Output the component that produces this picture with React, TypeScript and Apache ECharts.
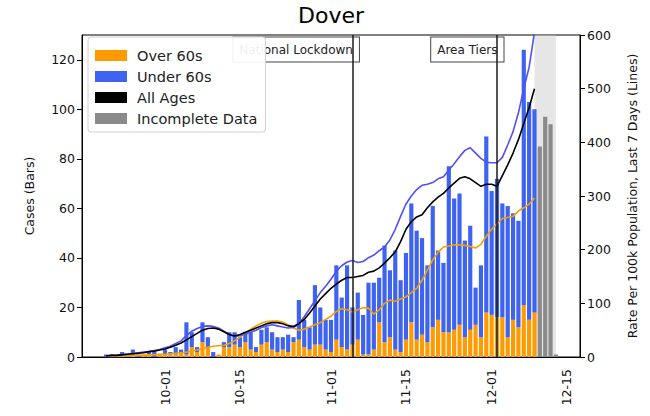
import React, { useEffect, useRef } from 'react';
import * as echarts from 'echarts';

const FONT = 'DejaVu Sans';

// Calendar categories: 2020-09-16 .. 2020-12-17 (labels as MM-DD)
const monthDays: [number, number, number][] = [
  [9, 16, 30],
  [10, 1, 31],
  [11, 1, 30],
  [12, 1, 17],
];
const dates: string[] = [];
monthDays.forEach(([m, a, b]) => {
  for (let d = a; d <= b; d++) dates.push(`${String(m).padStart(2, '0')}-${String(d).padStart(2, '0')}`);
});

const tickLabels = ['10-01', '10-15', '11-01', '11-15', '12-01', '12-15'];

const N = (n: number) => new Array(n).fill(null);

// Daily cases, over 60s (orange, bottom of stack)
const over60: (number | null)[] = [
  ...N(4),
  0, 0, 0, 1, 0, 1, 0, 1, 1, 0, 1,
  1, 1, 1, 2, 1, 4, 2, 6, 4, 0, 1, 4, 4, 5, 4, 6, 3, 2, 5, 6, 3, 2, 3, 2, 6, 7, 4, 3, 5, 5, 3,
  2, 7, 4, 3, 5, 7, 1, 1, 3, 14, 6, 8, 3, 2, 7, 14, 7, 9, 6, 12, 15, 10, 10, 11, 13, 8, 11, 13, 8, 18,
  17, 16, 16, 8, 15, 12, 21, 15, 18,
  ...N(8),
];

// Daily cases, under 60s (blue, stacked on top)
const under60: (number | null)[] = [
  ...N(4),
  1, 1, 0, 1, 1, 2, 1, 0, 1, 2, 0,
  2, 1, 3, 1, 13, 6, 2, 8, 4, 2, 0, 2, 6, 5, 4, 4, 7, 2, 6, 6, 7, 6, 5, 7, 2, 16, 11, 9, 24, 15, 12,
  13, 30, 20, 34, 15, 19, 16, 29, 27, 18, 39, 27, 40, 29, 35, 48, 44, 39, 31, 49, 28, 28, 67, 53, 53, 39, 42, 15, 29, 71,
  50, 56, 46, 53, 43, 43, 103, 88, 82,
  ...N(8),
];

// Daily cases, incomplete data (grey)
const incomplete: (number | null)[] = [...N(85), 85, 97, 94, 1, ...N(4)];

// 7-day rate per 100k, all ages (black line)
const rateAll: (number | null)[] = [
  ...N(4),
  2, 3, 3, 4, 5, 6, 7, 8, 10, 11, 13,
  15, 18, 22, 26, 32, 38, 44, 50, 53, 54, 52, 47, 42, 39, 42, 46, 50, 54, 58, 62, 64, 64, 62, 58, 57, 62, 70, 82, 95, 108, 118,
  128, 136, 143, 148, 148, 150, 152, 158, 160, 166, 175, 185, 196, 215, 238, 252, 261, 265, 278, 289, 298, 305, 315, 324, 333, 336, 332, 325, 318, 322,
  322, 318, 338, 358, 380, 405, 435, 465, 500,
  ...N(8),
];

// 7-day rate per 100k, under 60s (blue line)
const rateUnder60: (number | null)[] = [
  ...N(4),
  2, 3, 3, 5, 5, 7, 8, 9, 10, 12, 14,
  17, 20, 25, 30, 40, 48, 53, 57, 58, 57, 54, 48, 42, 38, 40, 43, 46, 50, 55, 58, 60, 58, 56, 54, 55, 62, 75, 90, 105, 120, 132,
  145, 160, 170, 177, 180, 176, 178, 185, 190, 198, 205, 218, 238, 262, 285, 300, 312, 320, 322, 325, 332, 336, 348, 360, 373, 385, 390, 380, 370, 363,
  362, 362, 372, 395, 420, 455, 500, 540, 605,
  ...N(8),
];

// 7-day rate per 100k, over 60s (orange line)
const rateOver60: (number | null)[] = [
  ...N(4),
  1, 1, 1, 2, 2, 3, 3, 3, 4, 4, 5,
  5, 6, 7, 8, 9, 11, 13, 16, 18, 20, 21, 22, 25, 30, 37, 44, 52, 58, 63, 66, 67, 67, 65, 60, 54, 50, 52, 56, 60, 64, 70,
  76, 85, 90, 88, 84, 88, 92, 91, 80, 88, 100, 106, 104, 108, 112, 120, 128, 143, 162, 181, 195, 205, 207, 209, 209, 208, 206, 203, 210, 225,
  238, 248, 258, 260, 262, 272, 278, 285, 296,
  ...N(8),
];

const events = [
  { name: 'National Lockdown', date: '11-05' },
  { name: 'Area Tiers', date: '12-02' },
];
const incompleteSpan = ['12-09', '12-13'];

const ORANGE = '#ff9a00';
const BLUE = '#3d63f0';
const BLUE_LINE = '#5050f5';
const GREY = '#8a8a8a';

const showTick = (_i: number, v: string) => tickLabels.includes(v);

export default function App() {
  const ref = useRef<HTMLDivElement>(null);
  useEffect(() => {
    document.body.style.margin = '0';
    const chart = echarts.init(ref.current!, null, { renderer: 'svg' });
    const axisText = { fontSize: 12.5, color: '#111', fontFamily: FONT };
    chart.setOption({
      animation: false,
      textStyle: { fontFamily: FONT },
      title: {
        text: 'Dover',
        left: 331,
        top: 4,
        textAlign: 'center',
        padding: 0,
        textStyle: { fontSize: 22, fontWeight: 'normal', color: '#000', fontFamily: FONT },
      },
      legend: {
        orient: 'vertical',
        left: 88,
        top: 37,
        padding: [11, 8, 6, 7],
        itemGap: 6,
        itemWidth: 32,
        itemHeight: 11,
        backgroundColor: 'rgba(255,255,255,0.93)',
        borderColor: '#d0d0d0',
        borderWidth: 1,
        borderRadius: 3,
        selectedMode: false,
        textStyle: { fontSize: 14.5, color: '#222', fontFamily: FONT, padding: [0, 0, 0, 5] },
        data: [
          { name: 'Over 60s', icon: 'rect' },
          { name: 'Under 60s', icon: 'rect' },
          { name: 'All Ages', icon: 'rect' },
          { name: 'Incomplete Data', icon: 'rect' },
        ],
      },
      grid: {
        left: 82,
        right: 70,
        top: 35,
        bottom: 59,
        show: true,
        borderColor: '#000',
        borderWidth: 1,
        backgroundColor: 'transparent',
      },
      xAxis: {
        type: 'category',
        data: dates,
        boundaryGap: true,
        axisLine: { lineStyle: { color: '#000' } },
        axisTick: { alignWithLabel: true, interval: showTick, length: 5, lineStyle: { color: '#000' } },
        axisLabel: { ...axisText, interval: showTick, rotate: 90, margin: 12 },
        splitLine: { show: false },
      },
      yAxis: [
        {
          type: 'value',
          min: 0,
          max: 130,
          interval: 20,
          name: 'Cases (Bars)',
          nameLocation: 'middle',
          nameGap: 46,
          nameRotate: 90,
          nameTextStyle: { ...axisText },
          axisLine: { show: true, lineStyle: { color: '#000' } },
          axisTick: { show: true, length: 5, lineStyle: { color: '#000' } },
          axisLabel: { ...axisText, showMaxLabel: false, margin: 7 },
          splitLine: { show: false },
        },
        {
          type: 'value',
          min: 0,
          max: 600,
          interval: 100,
          position: 'right',
          name: 'Rate Per 100k Population, Last 7 Days (Lines)',
          nameLocation: 'middle',
          nameGap: 46,
          nameRotate: 90,
          nameTextStyle: { ...axisText },
          axisLine: { show: true, lineStyle: { color: '#000' } },
          axisTick: { show: true, length: 5, lineStyle: { color: '#000' } },
          axisLabel: { ...axisText, margin: 7 },
          splitLine: { show: false },
        },
      ],
      series: [
        {
          name: 'Over 60s',
          type: 'bar',
          stack: 'cases',
          data: over60,
          barCategoryGap: '22%',
          itemStyle: { color: ORANGE },
          yAxisIndex: 0,
        },
        {
          name: 'Under 60s',
          type: 'bar',
          stack: 'cases',
          data: under60,
          barCategoryGap: '22%',
          itemStyle: { color: BLUE },
          yAxisIndex: 0,
        },
        {
          name: 'Incomplete Data',
          type: 'bar',
          stack: 'cases',
          data: incomplete,
          barCategoryGap: '22%',
          itemStyle: { color: GREY },
          yAxisIndex: 0,
        },
        {
          name: 'Over 60s rate',
          type: 'line',
          yAxisIndex: 1,
          data: rateOver60,
          symbol: 'none',
          lineStyle: { color: '#f5a000', width: 1.6 },
          itemStyle: { color: '#f5a000' },
          z: 3,
          markArea: {
            silent: true,
            z: 1,
            itemStyle: { color: 'rgba(200,200,200,0.45)' },
            data: [[{ xAxis: incompleteSpan[0], yAxis: 0 }, { xAxis: incompleteSpan[1], yAxis: 600 }]],
          },
        },
        {
          name: 'Under 60s rate',
          type: 'line',
          yAxisIndex: 1,
          data: rateUnder60,
          symbol: 'none',
          lineStyle: { color: BLUE_LINE, width: 1.6 },
          itemStyle: { color: BLUE_LINE },
          z: 3,
        },
        {
          name: 'All Ages',
          type: 'line',
          yAxisIndex: 1,
          data: rateAll,
          symbol: 'none',
          lineStyle: { color: '#000', width: 1.6 },
          itemStyle: { color: '#000' },
          z: 3,
          markLine: {
            silent: true,
            symbol: ['none', 'none'],
            lineStyle: { color: '#1a1a1a', width: 1.5, type: 'solid' },
            label: { show: false },
            data: events.map((e) => ({ xAxis: e.date })),
          },
          markPoint: {
            z: 3,
            silent: true,
            symbol: 'rect',
            symbolSize: 1,
            itemStyle: { color: 'transparent' },
            label: {
              show: true,
              formatter: '{b}',
              position: [7, 0],
              align: 'right',
              verticalAlign: 'middle',
              fontSize: 12,
              fontFamily: FONT,
              color: '#222',
              backgroundColor: '#fff',
              borderColor: '#444',
              borderWidth: 1,
              padding: [6, 6],
            },
            data: events.map((e) => ({ name: e.name, coord: [e.date, 572] })),
          },
        },
      ],
    });
    return () => chart.dispose();
  }, []);
  return <div ref={ref} style={{ width: 650, height: 416 }} />;
}
